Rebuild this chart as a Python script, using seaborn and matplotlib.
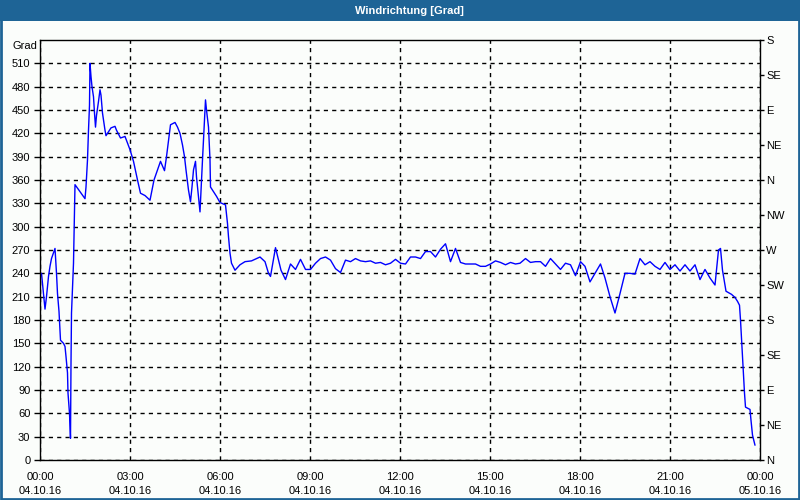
import numpy as np
import pandas as pd
import matplotlib
matplotlib.use("Agg")
import matplotlib.pyplot as plt
import matplotlib.dates as mdates
from matplotlib.patches import Rectangle
import seaborn as sns

# ---- data (minutes after 04.10.16 00:00, wind direction in degrees) ----
minutes = [3, 10, 13, 17, 20, 23, 30, 33, 35, 38, 41, 47, 50, 52, 55, 56, 59, 61, 62, 63,
           67, 70, 80, 90, 92, 95, 97, 99, 100, 102, 104, 107, 109, 111, 113, 117, 120, 122,
           125, 130, 132, 137, 142, 150, 153, 161, 170, 173, 180, 187, 195, 201, 210, 220,
           228, 235, 241, 249, 253, 257, 261, 270, 275, 280, 285, 289, 292, 297, 301, 304,
           307, 311, 313, 317, 320, 322, 325, 328, 331, 333, 337, 340, 341, 347, 353, 360,
           367, 371, 375, 377, 380, 383, 390, 400, 410, 423, 440, 450, 457, 461, 471, 482,
           491, 501, 511, 521, 531, 541, 551, 561, 571, 581, 591, 601, 611, 621, 631, 641,
           651, 661, 671, 681, 691, 701, 711, 721, 731, 741, 751, 761, 771, 781, 791, 801,
           811, 821, 831, 841, 851, 861, 871, 881, 891, 901, 911, 921, 931, 941, 951, 960,
           971, 981, 991, 1001, 1011, 1021, 1031, 1041, 1051, 1061, 1071, 1081, 1090, 1100,
           1110, 1121, 1130, 1140, 1150, 1160, 1170, 1180, 1190, 1200, 1210, 1220, 1230,
           1240, 1250, 1260, 1270, 1280, 1290, 1300, 1310, 1320, 1330, 1340, 1350, 1357,
           1361, 1365, 1372, 1383, 1390, 1395, 1399, 1401, 1403, 1405, 1407, 1409, 1411,
           1420, 1422, 1425, 1430]
degrees = [240, 194, 210, 236, 249, 259, 272, 240, 214, 191, 154, 150, 146, 133, 112, 86, 60, 28, 124, 189,
           253, 354, 345, 336, 351, 386, 424, 456, 510, 493, 480, 467, 446, 428, 443, 461, 476, 469,
           446, 424, 417, 422, 427, 429, 424, 414, 416, 411, 399, 384, 360, 343, 340, 334,
           360, 373, 384, 372, 390, 411, 431, 434, 428, 420, 405, 390, 373, 347, 332, 351,
           373, 384, 364, 339, 319, 347, 386, 424, 463, 450, 428, 386, 351, 345, 339, 331,
           329, 328, 304, 287, 266, 253, 244, 251, 255, 256, 261, 255, 240, 236, 273, 244,
           232, 252, 245, 258, 245, 245, 253, 259, 261, 257, 246, 241, 257, 255, 259, 256,
           255, 256, 253, 254, 251, 253, 258, 253, 252, 261, 261, 259, 268, 268, 261, 271,
           278, 255, 272, 254, 252, 252, 252, 249, 249, 252, 256, 254, 251, 254, 252, 253,
           259, 254, 255, 255, 249, 259, 252, 245, 253, 251, 237, 255, 249, 229,
           240, 252, 234, 210, 189, 214, 240, 240, 239, 259, 251, 255, 249,
           245, 254, 245, 251, 243, 251, 243, 251, 232, 245, 234, 225, 270,
           272, 244, 217, 213, 209, 204, 199, 180, 156, 133, 107, 86, 68,
           65, 51, 32, 19]

left_ticks = list(range(0, 511, 30))
right_ticks = list(range(0, 541, 45))
right_labels = ["N", "NE", "E", "SE", "S", "SW", "W", "NW", "N", "NE", "E", "SE", "S"]
title = "Windrichtung [Grad]"
unit = "Grad"

start = pd.Timestamp("2016-10-04 00:00")
end = pd.Timestamp("2016-10-05 00:00")
df = pd.DataFrame({"time": start + pd.to_timedelta(minutes, unit="m"), "deg": degrees})

# ---- styling ----
sns.set_theme(style="white")
plt.rcParams["font.family"] = ["Liberation Sans", "DejaVu Sans"]
plt.rcParams["font.size"] = 8

bg = "#fbfdfb"
blue_frame = "#1e6496"

fig = plt.figure(figsize=(8, 5), dpi=100, facecolor=bg)
ax = fig.add_axes([40 / 800, 1 - 460 / 500, 720 / 800, 420 / 500])
ax.set_facecolor(bg)

sns.lineplot(data=df, x="time", y="deg", ax=ax, color="#0000ff", linewidth=1, sort=True,
             estimator=None)

ax.set_xlim(start, end)
ax.set_ylim(0, 540)
ax.set_yticks(left_ticks)
ax.set_yticklabels([str(v) for v in left_ticks])
ax.xaxis.set_major_locator(mdates.HourLocator(byhour=range(0, 24, 3)))
ax.xaxis.set_minor_locator(mdates.HourLocator())
ax.xaxis.set_major_formatter(mdates.DateFormatter("%H:%M\n%d.%m.%y"))
ax.set_xlabel("")
ax.set_ylabel("")
ax.grid(True, which="major", color="black", linestyle=(0, (3, 3)), linewidth=1)
ax.grid(False, which="minor")
for s in ax.spines.values():
    s.set_color("black")
    s.set_linewidth(1)
    s.set_visible(True)
ax.tick_params(axis="x", which="both", direction="out", length=3, width=1, color="black",
               pad=6, labelsize=8, labelcolor="black")
ax.tick_params(axis="y", which="major", direction="out", length=4, width=1, color="black",
               pad=3, labelsize=8, labelcolor="black")
for lbl in ax.get_xticklabels():
    lbl.set_linespacing(1.5)

ax2 = ax.twinx()
ax2.set_ylim(0, 540)
ax2.set_yticks(right_ticks)
ax2.set_yticklabels(right_labels)
ax2.grid(False)
ax2.tick_params(axis="y", direction="out", length=3, width=1, color="black", pad=1.5,
                labelsize=8, labelcolor="black")
for s in ax2.spines.values():
    s.set_visible(False)

# unit label at top-left
fig.text(37 / 800, 1 - 46 / 500, unit, ha="right", va="center", fontsize=8, color="black")

# title bar and frame
fig.patches.append(Rectangle((0, 1 - 21 / 500), 1, 21 / 500, transform=fig.transFigure,
                             facecolor=blue_frame, edgecolor="none", zorder=0))
fig.patches.append(Rectangle((0.001, 0.002), 0.998, 0.996, transform=fig.transFigure,
                             facecolor="none", edgecolor=blue_frame, linewidth=2, zorder=5))
fig.text(409 / 800, 1 - 10.5 / 500, title, ha="center", va="center", fontsize=8,
         fontweight="bold", color="white")

fig.savefig("out.png", dpi=100, facecolor=bg)
